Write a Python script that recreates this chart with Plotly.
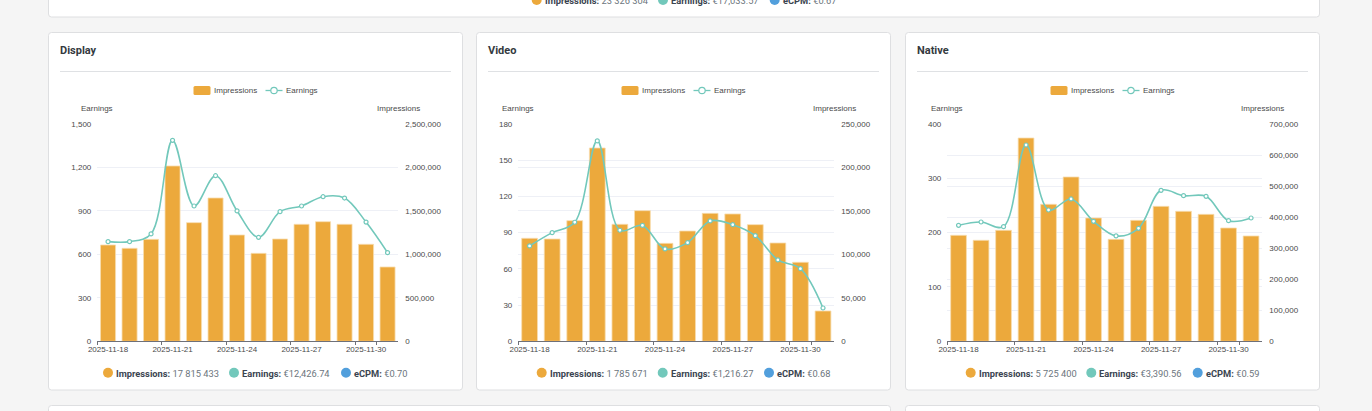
import plotly.graph_objects as go

dates = ["2025-11-18","2025-11-19","2025-11-20","2025-11-21","2025-11-22","2025-11-23","2025-11-24",
         "2025-11-25","2025-11-26","2025-11-27","2025-11-28","2025-11-29","2025-11-30","2025-12-01"]
tick_dates = ["2025-11-18","2025-11-21","2025-11-24","2025-11-27","2025-11-30"]

display_impressions = [1108000,1070000,1173000,2017000,1365000,1649000,1223000,1012000,1177000,1346000,1376000,1346000,1116000,855000]
display_earnings = [688,688,741,1387,934,1143,900,718,895,934,998,989,823,612]
video_impressions = [118500,117700,138800,222400,134600,150300,112700,126900,147200,146500,134200,113100,90900,34900]
video_earnings = [79,90,98.6,166,92,96,76.5,81.7,99.7,96.6,87.5,67.4,60.2,27.6]
native_impressions = [341400,325300,357500,654900,441300,529300,397200,328500,389700,434800,418700,409000,365000,339300]
native_earnings = [213.5,219.6,211,361.3,241.7,262,220.9,193.9,208,277.9,268,266.9,222,227]

W, H = 1372, 411
BG, CARD, BORDER = "#F5F5F5", "#FFFFFF", "#DEDFE1"
ORANGE, TEAL, BLUE = "#ECA93C", "#72C8BB", "#529FDC"
GRID, AXIS, TICK = "#EEF0F6", "#6E7079", "#4A4A4A"
ARIAL, UI = "Liberation Sans", "Roboto"

panels = [
    dict(title="Display", imp=display_impressions, earn=display_earnings,
         card=(48.5,462.5), plot=(97.3,398.3), emax=1500, edt=300, imax=2500000, idt=500000,
         totals=("17 815 433","€12,426.74","€0.70"), dots=(108,234,346)),
    dict(title="Video", imp=video_impressions, earn=video_earnings,
         card=(476.5,890.5), plot=(518.3,834.3), emax=180, edt=30, imax=250000, idt=50000,
         totals=("1 785 671","€1,216.27","€0.68"), dots=(541.7,662.7,769)),
    dict(title="Native", imp=native_impressions, earn=native_earnings,
         card=(905.5,1319.5), plot=(947.3,1262.3), emax=400, edt=100, imax=700000, idt=100000,
         totals=("5 725 400","€3,390.56","€0.59"), dots=(970.7,1091.3,1197.7)),
]
Y_TOP, Y_BOT = 124, 341.3
CARD_TOP, CARD_BOT = 32.5, 390

fx = lambda v: v / W
fy = lambda v: 1 - v / H

def round_path(x0, y0, x1, y1, r=3):
    return (f"M{fx(x0+r)},{fy(y0)} L{fx(x1-r)},{fy(y0)} Q{fx(x1)},{fy(y0)} {fx(x1)},{fy(y0+r)} "
            f"L{fx(x1)},{fy(y1-r)} Q{fx(x1)},{fy(y1)} {fx(x1-r)},{fy(y1)} "
            f"L{fx(x0+r)},{fy(y1)} Q{fx(x0)},{fy(y1)} {fx(x0)},{fy(y1-r)} "
            f"L{fx(x0)},{fy(y0+r)} Q{fx(x0)},{fy(y0)} {fx(x0+r)},{fy(y0)} Z")

shapes, annotations = [], []

def add_card(x0, y0, x1, y1):
    shapes.append(dict(type="path", path=round_path(x0,y0,x1,y1), xref="paper", yref="paper",
                       fillcolor=CARD, line=dict(color=BORDER, width=1), layer="below"))

def add_dot(x, y, color, r=5, line=None):
    shapes.append(dict(type="circle", xref="paper", yref="paper", x0=fx(x-r), x1=fx(x+r),
                       y0=fy(y+r), y1=fy(y-r), fillcolor=color, line=line or dict(width=0), layer="below"))

def add_text(x, y, text, size, color, family=UI, anchor="left"):
    annotations.append(dict(text=text, x=fx(x), y=fy(y), xref="paper", yref="paper", showarrow=False,
                            xanchor=anchor, yanchor="middle", borderpad=0,
                            font=dict(size=size, color=color, family=family)))

def add_totals(dots, y, vals):
    names = ("Impressions", "Earnings", "eCPM")
    for d, n, v, c in zip(dots, names, vals, (ORANGE, TEAL, BLUE)):
        add_dot(d, y, c)
        add_text(d + 7, y + 0.5, f"<b>{n}:</b> <span style='color:#6C757D'>{v}</span>", 9.3, "#3A4450")

def add_legend(cx, y):
    sx = cx - 62
    shapes.append(dict(type="path", path=round_path(sx, y-4.5, sx+17, y+4.5, 1.5), xref="paper", yref="paper",
                       fillcolor=ORANGE, line=dict(width=0), layer="below"))
    add_text(sx+19, y, "Impressions", 8, TICK, ARIAL)
    shapes.append(dict(type="line", xref="paper", yref="paper", x0=fx(sx+72), x1=fx(sx+89), y0=fy(y), y1=fy(y),
                       line=dict(color=TEAL, width=1.3), layer="below"))
    add_dot(sx+80.5, y, "#FFFFFF", 3.2, dict(color=TEAL, width=1.2))
    add_text(sx+91, y, "Earnings", 8, TICK, ARIAL)

add_card(48.5, -20, 1319.5, 17)
add_card(48.5, 405.5, 890.5, 440)
add_card(905.5, 405.5, 1319.5, 440)
add_totals((536.7, 663, 774.7), 0, ("23 326 304", "€17,033.57", "€0.67"))

fig = go.Figure()
layout = dict(width=W, height=H, margin=dict(l=0,r=0,t=0,b=0,autoexpand=False), paper_bgcolor=BG,
              plot_bgcolor="rgba(0,0,0,0)", barmode="overlay", hovermode="x", autosize=False, showlegend=False)

for i, p in enumerate(panels):
    n = i + 1
    xname = "x" if i == 0 else f"x{n}"
    yimp = f"y{2*i+1}" if i else "y"
    yearn = f"y{2*i+2}"
    fig.add_trace(go.Bar(x=dates, y=p["imp"], name="Impressions", xaxis=xname, yaxis=yimp, width=0.7,
                         marker=dict(color=ORANGE, line=dict(color="#F7DDB0", width=0.8))))
    fig.add_trace(go.Scatter(x=dates, y=p["earn"], name="Earnings", xaxis=xname, yaxis=yearn, mode="lines+markers",
                             line=dict(color=TEAL, width=1.6, shape="spline", smoothing=1.0),
                             marker=dict(size=4, color="#FFFFFF", line=dict(color=TEAL, width=1.2))))
    dom_x = [fx(p["plot"][0]), fx(p["plot"][1])]
    dom_y = [fy(Y_BOT), fy(Y_TOP)]
    xkey = "xaxis" if i == 0 else f"xaxis{n}"
    ykey_i = "yaxis" if i == 0 else f"yaxis{2*i+1}"
    ykey_e = f"yaxis{2*i+2}"
    layout[xkey] = dict(domain=dom_x, anchor=yimp, type="category", categoryorder="array", categoryarray=dates,
                        range=[-0.5, 13.5], tickmode="array", tickvals=tick_dates, ticktext=tick_dates,
                        ticks="outside", tickson="boundaries", ticklen=3, tickcolor=AXIS, tickwidth=1,
                        tickangle=0, showgrid=False, showline=True, linecolor=AXIS, linewidth=1, zeroline=False,
                        tickfont=dict(size=8, color=TICK, family=ARIAL))
    layout[ykey_i] = dict(domain=dom_y, anchor=xname, side="right", range=[0, p["imax"]], dtick=p["idt"],
                          tickformat=",", showgrid=True, gridcolor=GRID, gridwidth=1, zeroline=False,
                          showline=False, ticks="", ticklabelstandoff=6,
                          tickfont=dict(size=8, color=TICK, family=ARIAL))
    layout[ykey_e] = dict(domain=dom_y, anchor=xname, side="left", overlaying=yimp, range=[0, p["emax"]], dtick=p["edt"],
                          tickformat=",", showgrid=True, gridcolor=GRID, gridwidth=1, zeroline=False,
                          showline=False, ticks="", ticklabelstandoff=5,
                          tickfont=dict(size=8, color=TICK, family=ARIAL))
    c0, c1 = p["card"]
    add_card(c0, CARD_TOP, c1, CARD_BOT)
    add_legend((c0+c1)/2, 90.5)
    shapes.append(dict(type="line", xref="paper", yref="paper", x0=fx(c0+11.5), x1=fx(c1-11.5),
                       y0=fy(71.5), y1=fy(71.5), line=dict(color="#DFE1E4", width=1), layer="below"))
    add_text(c0+10.8, 51, f"<b>{p['title']}</b>", 11, "#343A40")
    add_text(p["plot"][0], 108.5, "Earnings", 8, TICK, ARIAL, "center")
    add_text(p["plot"][1], 108.5, "Impressions", 8, TICK, ARIAL, "center")
    add_totals(p["dots"], 372.7, p["totals"])

layout["shapes"] = shapes
layout["annotations"] = annotations
fig.update_layout(**layout)
fig.write_html("out.html", config=dict(displayModeBar=False),
               post_script="document.body.style.margin='0';document.body.style.overflow='hidden';")
